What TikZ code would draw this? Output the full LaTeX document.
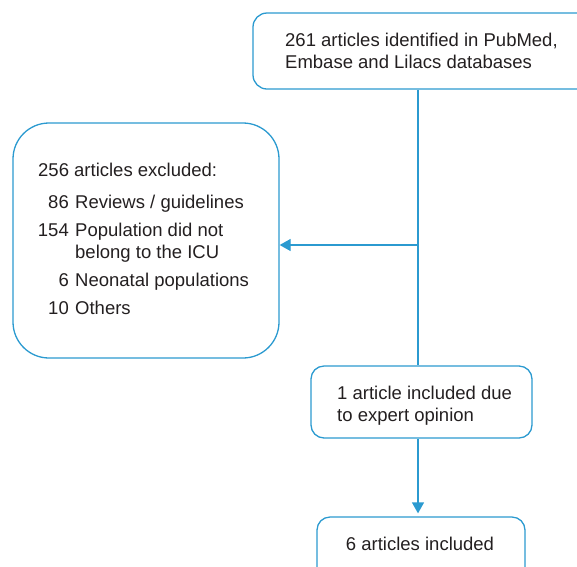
\documentclass[tikz,border=0pt]{standalone}
\usepackage{fontspec}
\setmainfont{Liberation Sans}
\usetikzlibrary{arrows.meta}
\definecolor{flowblue}{HTML}{2B9AD0}
\definecolor{txt}{HTML}{231F20}
\begin{document}
\begin{tikzpicture}[x=1pt,y=-1pt,
  box/.style={draw=flowblue,line width=1.3pt,rounded corners=#1,inner sep=0pt},
  box/.default=14pt,
  lbl/.style={text=txt,font=\fontsize{18.5}{21.5}\selectfont,inner sep=0pt},
  conn/.style={draw=flowblue,line width=1.3pt},
  arr/.style={conn,-{Triangle[length=11pt,width=12pt]}}]
\useasboundingbox (0,0) rectangle (577,566);
\begin{scope}
\clip (0,0) rectangle (577,566);
% boxes
\node[box,minimum width=347pt,minimum height=76pt] (top) at (426.5,51) {};
\node[box=36pt,minimum width=266pt,minimum height=235pt] (excl) at (146,240.5) {};
\node[box=13pt,minimum width=221pt,minimum height=72pt] (mid) at (421.5,402) {};
\node[box=13pt,minimum width=208pt,minimum height=74pt] (fin) at (421,554) {};
% texts
\node[lbl,anchor=base west] (t1) at (285,46.5) {261 articles identified in PubMed,};
\node[lbl,anchor=base west] (t2) at (285,68) {Embase and Lilacs databases};
\node[lbl,anchor=base west] (e0) at (38,176) {256 articles excluded:};
\node[lbl,anchor=base east] (n1) at (69,208) {86};
\node[lbl,anchor=base west] (e1) at (75,208) {Reviews / guidelines};
\node[lbl,anchor=base east] (n2) at (69,236.5) {154};
\node[lbl,anchor=base west] (e2) at (75,236.5) {Population did not};
\node[lbl,anchor=base west] (e2b) at (75,258) {belong to the ICU};
\node[lbl,anchor=base east] (n3) at (69,286.5) {6};
\node[lbl,anchor=base west] (e3) at (75,286.5) {Neonatal populations};
\node[lbl,anchor=base east] (n4) at (69,314) {10};
\node[lbl,anchor=base west] (e4) at (75,314) {Others};
\node[lbl,anchor=base west] (m1) at (337,399) {1 article included due};
\node[lbl,anchor=base west] (m2) at (337,421.5) {to expert opinion};
\node[lbl,anchor=base] (f1) at (420,550) {6 articles included};
% connectors
\coordinate (split) at (418,245);
\draw[conn] (top.south -| split) -- (mid.north -| split);
\draw[arr] (split) -- (excl.east |- split);
\draw[arr,shorten >=3pt] (mid.south -| split) -- (fin.north -| split);
\end{scope}
\end{tikzpicture}
\end{document}
